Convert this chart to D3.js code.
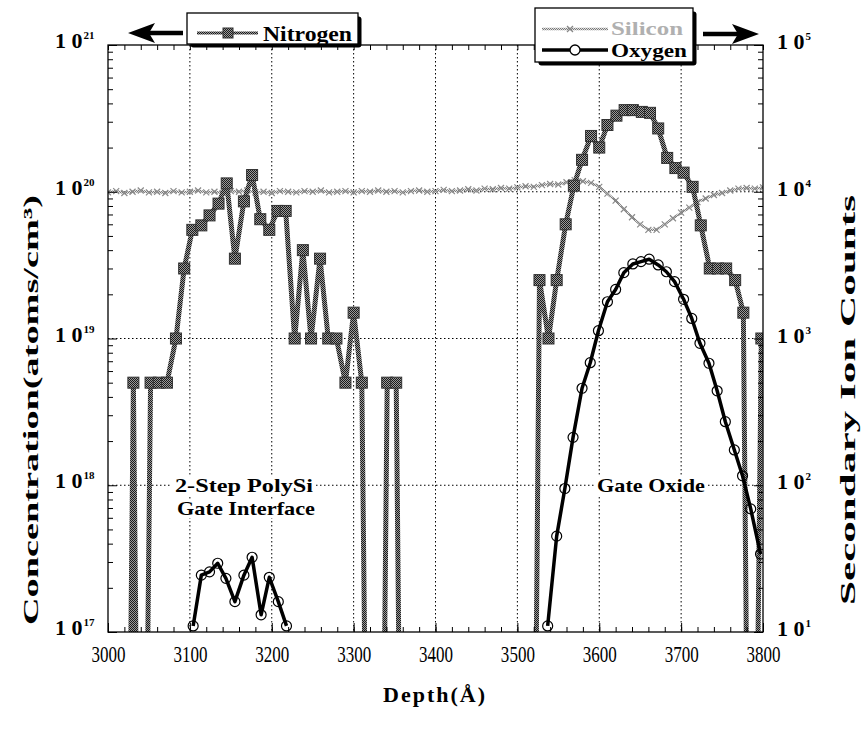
<!DOCTYPE html>
<html><head><meta charset="utf-8">
<script src="https://cdn.jsdelivr.net/npm/d3@7"></script>
<style>body{margin:0;background:#fff} text{font-family:"Liberation Serif","Times New Roman",serif}</style>
</head><body>
<svg id="c" width="861" height="735"></svg>
<script>
// ---------- data ----------
const xTicks = [3000,3100,3200,3300,3400,3500,3600,3700,3800];
const leftExps = [17,18,19,20,21];
const rightExps = [1,2,3,4,5];

// Nitrogen (left axis, atoms/cm3); 0 = below detection (off scale)
const nitrogenDepth = [3021,3031,3041,3052,3062,3072,3083,3093,3103,3114,3124,3135,3145,3155,3166,3176,3186,3197,3207,3217,3228,3238,3248,3259,3269,3279,3290,3300,3310,3321,3331,3341,3352,3362,
  3517,3527,3538,3548,3559,3569,3579,3590,3600,3610,3621,3631,3641,3652,3662,3672,3683,3693,3703,3714,3724,3735,3745,3755,3766,3776,3786,3798];
const nitrogenConc = [0,5e18,0,5e18,5e18,5e18,1e19,3e19,5.5e19,5.9e19,6.9e19,8.3e19,1.14e20,3.5e19,8.6e19,1.3e20,6.5e19,5.5e19,7.4e19,7.4e19,1e19,4e19,1e19,3.5e19,1e19,1e19,5e18,1.5e19,5e18,0,0,5e18,5e18,0,
  0,2.5e19,1e19,2.5e19,6e19,1.1e20,1.65e20,2.4e20,2.0e20,2.85e20,3.3e20,3.6e20,3.6e20,3.5e20,3.45e20,2.7e20,1.7e20,1.45e20,1.35e20,1.08e20,5.9e19,3e19,3e19,3e19,2.5e19,1.5e19,0,1e19];

// Oxygen (right axis, counts) - two segments
const oxygenDepthA = [3104,3114,3124,3134,3144,3155,3166,3176,3187,3197,3208,3218];
const oxygenCountsA = [11,24.4,25.7,29.4,23.2,16.1,24.4,32.3,13.1,23.6,16.1,11];
const oxygenDepthB = [3537,3548,3558,3568,3579,3589,3599,3610,3620,3630,3641,3651,3661,3672,3682,3692,3703,3713,3723,3734,3744,3754,3765,3775,3785,3797];
const oxygenCountsB = [11,45,95,212,458,684,1130,1780,2160,2810,3220,3340,3470,3170,2850,2440,1850,1370,927,678,440,271,174,116,69,34];

// Silicon (right axis, counts)
const siliconDepth = [3000,3010,3020,3030,3040,3050,3060,3070,3080,3090,3100,3110,3120,3130,3140,3150,3160,3170,3180,3190,3200,3210,3220,3230,3240,3250,3260,3270,3280,3290,3300,3310,3320,3330,3340,3350,3360,3370,3380,3390,3400,3410,3420,3430,3440,3450,3460,3470,3480,3490,3500,3510,3520,3530,3540,3550,3560,3570,3580,3590,3600,3610,3620,3630,3640,3650,3660,3670,3680,3690,3700,3710,3720,3730,3740,3750,3760,3770,3780,3790,3800];
const siliconCounts = [9900,10100,9800,10000,10200,9900,10000,9800,10100,9900,10000,10200,9900,10000,9800,10100,10000,10200,9900,10000,9800,10100,10000,9900,10100,10000,10200,9900,10000,10100,9900,10100,10000,10200,10000,10100,9900,10100,10200,10000,10100,10300,10100,10200,10400,10200,10500,10400,10600,10500,10700,10900,10800,11100,11300,11200,11600,12000,11800,11500,10800,9700,8700,7600,6700,6000,5500,5500,6000,6600,7200,7800,8500,9000,9500,9800,10200,10500,10600,10500,10700];

// ---------- layout ----------
const M = {l:108, r:763, t:45, b:632};
const svg = d3.select("#c");
const x = d3.scaleLinear().domain([3000,3800]).range([M.l,M.r]);
const yL = d3.scaleLog().domain([1e17,1e21]).range([M.b,M.t]);
const yR = d3.scaleLog().domain([1e1,1e5]).range([M.b,M.t]);

const defs = svg.append("defs");
defs.append("clipPath").attr("id","clip").append("rect")
  .attr("x",M.l).attr("y",M.t).attr("width",M.r-M.l).attr("height",M.b-M.t);
function checker(id, a, b){
  const p = defs.append("pattern").attr("id",id).attr("patternUnits","userSpaceOnUse").attr("width",2).attr("height",2);
  p.append("rect").attr("width",2).attr("height",2).attr("fill",b);
  p.append("rect").attr("width",1).attr("height",1).attr("fill",a);
  p.append("rect").attr("x",1).attr("y",1).attr("width",1).attr("height",1).attr("fill",a);
}
checker("pN","#1a1a1a","#9a9a9a");
checker("pS","#7a7a7a","#e0e0e0");

// ---------- grid ----------
const grid = svg.append("g");
xTicks.slice(1,-1).forEach(v=>{
  grid.append("line").attr("x1",x(v)).attr("x2",x(v)).attr("y1",M.t).attr("y2",M.b)
    .attr("stroke","#000").attr("stroke-width",1).attr("stroke-dasharray","1.5,2.5");
});
[18,19,20].forEach(e=>{
  grid.append("line").attr("x1",M.l).attr("x2",M.r).attr("y1",yL(Math.pow(10,e))).attr("y2",yL(Math.pow(10,e)))
    .attr("stroke","#000").attr("stroke-width",1).attr("stroke-dasharray","1.5,2.5");
});

// ---------- annotations ----------
function label(txt, xx, yy, len){
  const g = svg.append("g");
  const t = g.append("text").attr("x",xx).attr("y",yy).attr("font-weight","bold").attr("font-size",19)
    .attr("textLength",len).attr("lengthAdjust","spacingAndGlyphs").text(txt);
  const bb = t.node().getBBox();
  g.insert("rect","text").attr("x",bb.x-3).attr("y",bb.y+1).attr("width",bb.width+6).attr("height",bb.height-2).attr("fill","#fff");
}
label("2-Step  PolySi", 175, 492, 138);
label("Gate  Interface", 177, 515, 138);
label("Gate  Oxide", 597, 492, 108);

// ---------- data ----------
const plot = svg.append("g").attr("clip-path","url(#clip)");
const FLOOR = 1e13;
const nData = nitrogenDepth.map((d,i)=>({d, v: nitrogenConc[i] > 0 ? nitrogenConc[i] : FLOOR}));
const sData = siliconDepth.map((d,i)=>({d, v: siliconCounts[i]}));
const oA = oxygenDepthA.map((d,i)=>({d, v: oxygenCountsA[i]}));
const oB = oxygenDepthB.map((d,i)=>({d, v: oxygenCountsB[i]}));

// silicon
plot.append("path").datum(sData).attr("fill","none").attr("stroke","url(#pS)").attr("stroke-width",2.5)
  .attr("d", d3.line().x(p=>x(p.d)).y(p=>yR(p.v)));
plot.append("g").selectAll("path").data(sData).join("path")
  .attr("d", p=>{const cx=x(p.d), cy=yR(p.v), s=3; return `M${cx-s},${cy-s}L${cx+s},${cy+s}M${cx-s},${cy+s}L${cx+s},${cy-s}`;})
  .attr("stroke","#8a8a8a").attr("stroke-width",1.2).attr("fill","none");

// nitrogen
plot.append("path").datum(nData).attr("fill","none").attr("stroke","url(#pN)").attr("stroke-width",5).attr("stroke-linejoin","round")
  .attr("d", d3.line().x(p=>x(p.d)).y(p=>yL(p.v)));
plot.append("g").selectAll("rect").data(nData.filter(p=>p.v>FLOOR)).join("rect")
  .attr("x",p=>x(p.d)-5.5).attr("y",p=>yL(p.v)-5.5).attr("width",11).attr("height",11)
  .attr("fill","url(#pN)").attr("stroke","#333").attr("stroke-width",1);

// oxygen
[oA,oB].forEach(seg=>{
  plot.append("path").datum(seg).attr("fill","none").attr("stroke","#000").attr("stroke-width",3.5).attr("stroke-linejoin","round")
    .attr("d", d3.line().x(p=>x(p.d)).y(p=>yR(p.v)));
  plot.append("g").selectAll("circle").data(seg).join("circle")
    .attr("cx",p=>x(p.d)).attr("cy",p=>yR(p.v)).attr("r",5)
    .attr("fill","none").attr("stroke","#000").attr("stroke-width",1.2);
});

// ---------- axes ----------
const minorX = d3.range(3000,3801,20);
svg.append("g").attr("transform",`translate(0,${M.b})`)
  .call(d3.axisBottom(x).tickValues(minorX).tickSize(-5).tickFormat(""))
  .call(g=>g.select(".domain").remove());
svg.append("g").attr("transform",`translate(0,${M.t})`)
  .call(d3.axisTop(x).tickValues(minorX).tickSize(-5).tickFormat(""))
  .call(g=>g.select(".domain").remove());
const xg = svg.append("g").attr("transform",`translate(0,${M.b})`)
  .call(d3.axisBottom(x).tickValues(xTicks).tickSize(-9).tickPadding(14).tickFormat(d3.format("d")))
  .call(g=>g.select(".domain").remove());
xg.selectAll(".tick text").attr("font-family","Liberation Serif").attr("font-size",24).attr("fill","#000")
  .attr("dy","0.66em").attr("textLength",34).attr("lengthAdjust","spacingAndGlyphs");

const minorL = [], minorR = [];
for (let e=17;e<21;e++) for (let k=2;k<10;k++) minorL.push(k*Math.pow(10,e));
for (let e=1;e<5;e++) for (let k=2;k<10;k++) minorR.push(k*Math.pow(10,e));
svg.append("g").attr("transform",`translate(${M.l},0)`)
  .call(d3.axisLeft(yL).tickValues(minorL).tickSize(-5).tickFormat(""))
  .call(g=>g.select(".domain").remove());
svg.append("g").attr("transform",`translate(${M.l},0)`)
  .call(d3.axisLeft(yL).tickValues(leftExps.map(e=>Math.pow(10,e))).tickSize(-9).tickFormat(""))
  .call(g=>g.select(".domain").remove());
svg.append("g").attr("transform",`translate(${M.r},0)`)
  .call(d3.axisRight(yR).tickValues(minorR).tickSize(-5).tickFormat(""))
  .call(g=>g.select(".domain").remove());
svg.append("g").attr("transform",`translate(${M.r},0)`)
  .call(d3.axisRight(yR).tickValues(rightExps.map(e=>Math.pow(10,e))).tickSize(-9).tickFormat(""))
  .call(g=>g.select(".domain").remove());

svg.append("rect").attr("x",M.l).attr("y",M.t).attr("width",M.r-M.l).attr("height",M.b-M.t)
  .attr("fill","none").attr("stroke","#000").attr("stroke-width",1.3);

// tick labels (powers of ten)
function pow10(xx, yy, exp){
  const t = svg.append("text").attr("x",xx).attr("y",yy).attr("font-weight","bold").attr("font-size",22);
  t.append("tspan").text("1 0");
  t.append("tspan").attr("font-size",11).attr("dy",-9).attr("dx",1).text(exp);
}
leftExps.forEach(e=>pow10(55, yL(Math.pow(10,e))+3, e));
rightExps.forEach(e=>pow10(777, yR(Math.pow(10,e))+4, e));

// axis titles
svg.append("text").attr("transform","translate(38,410) rotate(-90)").attr("text-anchor","middle")
  .attr("font-weight","bold").attr("font-size",22).attr("textLength",430).attr("lengthAdjust","spacingAndGlyphs")
  .text("Concentration(atoms/cm³)");
svg.append("text").attr("transform","translate(855,400) rotate(-90)").attr("text-anchor","middle")
  .attr("font-weight","bold").attr("font-size",22).attr("textLength",410).attr("lengthAdjust","spacingAndGlyphs")
  .text("Secondary  Ion  Counts");
svg.append("text").attr("x",435).attr("y",702).attr("text-anchor","middle")
  .attr("font-weight","bold").attr("font-size",22).attr("letter-spacing",2).text("Depth(Å)");

// ---------- legends ----------
function box(x0,y0,w,h){
  svg.append("rect").attr("x",x0+3.5).attr("y",y0+3.5).attr("width",w).attr("height",h).attr("rx",3).attr("fill","#000");
  svg.append("rect").attr("x",x0).attr("y",y0).attr("width",w).attr("height",h).attr("fill","#fff").attr("stroke","#000").attr("stroke-width",1.3);
}
box(187,13,171,31);
svg.append("line").attr("x1",197).attr("x2",258).attr("y1",33).attr("y2",33).attr("stroke","url(#pN)").attr("stroke-width",3);
svg.append("rect").attr("x",223).attr("y",28).attr("width",10).attr("height",10).attr("fill","url(#pN)").attr("stroke","#333");
svg.append("text").attr("x",263).attr("y",41).attr("font-weight","bold").attr("font-size",21)
  .attr("textLength",89).attr("lengthAdjust","spacingAndGlyphs").text("Nitrogen");

box(535,8,158,54);
svg.append("line").attr("x1",542).attr("x2",608).attr("y1",29).attr("y2",29).attr("stroke","url(#pS)").attr("stroke-width",2.5);
svg.append("path").attr("d","M567,26L573,32M567,32L573,26").attr("stroke","#888").attr("stroke-width",1.3);
svg.append("text").attr("x",611).attr("y",35).attr("font-weight","bold").attr("font-size",18).attr("fill","#b0b0b0")
  .attr("textLength",72).attr("lengthAdjust","spacingAndGlyphs").text("Silicon");
svg.append("line").attr("x1",542).attr("x2",608).attr("y1",50).attr("y2",50).attr("stroke","#000").attr("stroke-width",3.5);
svg.append("circle").attr("cx",575).attr("cy",50).attr("r",5).attr("fill","#fff").attr("stroke","#000").attr("stroke-width",1.3);
svg.append("text").attr("x",611).attr("y",57).attr("font-weight","bold").attr("font-size",18)
  .attr("textLength",76).attr("lengthAdjust","spacingAndGlyphs").text("Oxygen");

// arrows
svg.append("line").attr("x1",148).attr("x2",183).attr("y1",33).attr("y2",33).attr("stroke","#000").attr("stroke-width",4.5);
svg.append("path").attr("d","M128,33L155,23L149,33L155,43Z").attr("fill","#000");
svg.append("line").attr("x1",703).attr("x2",740).attr("y1",34).attr("y2",34).attr("stroke","#000").attr("stroke-width",4.5);
svg.append("path").attr("d","M759,34L732,24L738,34L732,44Z").attr("fill","#000");
</script>
</body></html>
